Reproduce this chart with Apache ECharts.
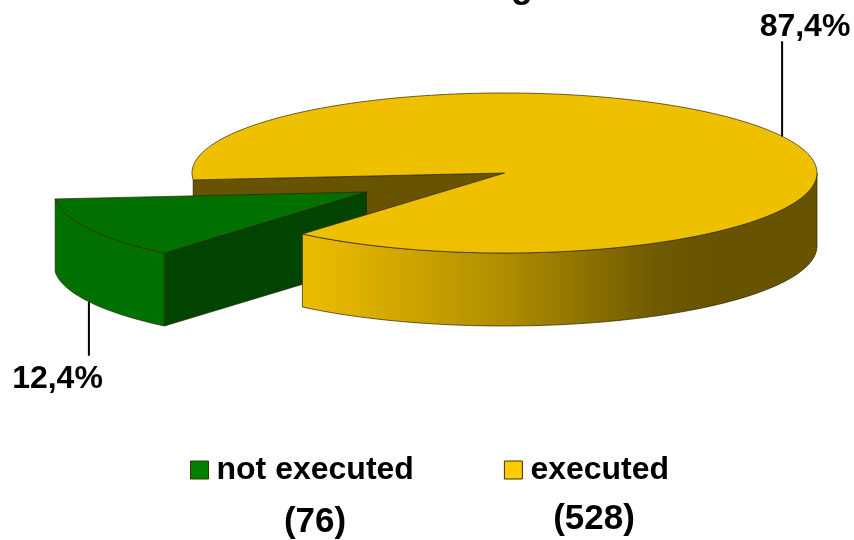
<!DOCTYPE html>
<html><head><meta charset="utf-8">
<style>html,body{margin:0;padding:0;background:#fff}#c{width:854px;height:540px}</style>
<script src="https://cdn.jsdelivr.net/npm/echarts@6/dist/echarts.min.js"></script>
</head><body><div id="c"></div>
<script>
var categories = ['not executed', 'executed'];
var percents = [12.4, 87.4];
var percentLabels = ['12,4%', '87,4%'];
var countLabels = ['(76)', '(528)'];

var FONT = '"Liberation Sans", Arial, sans-serif';
var DEG = Math.PI / 180;
var pie = { cx: 504.5, cy: 173, rx: 312.5, ry: 80, depth: 73, firstAngle: 130.3 };
var looks = [
  { dx: -138, dy: 19, top: '#007000', cut: '#004400', legend: '#008000', leaderFrom: 'bottom', leaderLen: 54,
    textX: 57.5, textY: 379, countX: 315, countY: 522, zFace: 2, zWall: 2.5, zTop: 3 },
  { dx: 0, dy: 0, top: '#EFC000', cut: '#675300', legend: '#FFCC00', leaderFrom: 'top', leaderLen: 95,
    textX: 805, textY: 27, countX: 594, countY: 519, zFace: 1, zWall: 4, zTop: 5 }
];
var total = percents.reduce(function (a, b) { return a + b; }, 0);

function wallFill(i) {
  if (i === 0) return looks[0].top;
  return new echarts.graphic.LinearGradient(300, 0, 720, 0, [
    { offset: 0, color: '#EBBD00' }, { offset: 0.12, color: '#E0B300' },
    { offset: 0.5, color: '#AD8C00' }, { offset: 0.85, color: '#6F5900' }, { offset: 1, color: '#675300' }
  ], true);
}

function renderSlice(i) {
  return function (params, api) {
    var look = looks[i];
    var before = 0;
    for (var k = 0; k < i; k++) before += percents[k];
    var start = pie.firstAngle + before / total * 360;
    var end = start + api.value(0) / total * 360;
    var cx = pie.cx + look.dx, cy = pie.cy + look.dy;
    function pt(t, down) {
      return [cx + pie.rx * Math.cos(t * DEG), cy + pie.ry * Math.sin(t * DEG) + (down ? pie.depth : 0)];
    }
    var line = { stroke: '#2b2400', lineWidth: 0.7 };
    function poly(points, fill, z2) {
      return { type: 'polygon', z2: z2, silent: true, shape: { points: points },
        style: { fill: fill, stroke: line.stroke, lineWidth: line.lineWidth } };
    }
    var children = [];
    // cut face at the start of the slice, when turned to the viewer
    var c = Math.cos(start * DEG);
    if (c < 0) {
      children.push(poly([[cx, cy], pt(start), pt(start, true), [cx, cy + pie.depth]], look.cut, look.zFace));
    }
    // outer wall: lower half of the ellipse only
    var lo = Math.max(start, 360), hi = Math.min(end, 540);
    if (hi <= lo) { lo = start; hi = Math.min(end, 180); }
    var wall = [], t, n = 80;
    for (t = 0; t <= n; t++) wall.push(pt(lo + (hi - lo) * t / n));
    for (t = n; t >= 0; t--) wall.push(pt(lo + (hi - lo) * t / n, true));
    children.push(poly(wall, wallFill(i), look.zWall));
    // top surface
    var top = [[cx, cy]], m = 240;
    for (t = 0; t <= m; t++) top.push(pt(start + (end - start) * t / m));
    children.push(poly(top, look.top, look.zTop));
    // leader and label
    var mid = (start + end) / 2;
    var a = pt(mid, look.leaderFrom === 'bottom');
    var dir = look.leaderFrom === 'bottom' ? 1 : -1;
    children.push({ type: 'line', z2: 6, silent: true,
      shape: { x1: a[0], y1: a[1], x2: a[0], y2: a[1] + dir * look.leaderLen },
      style: { stroke: '#000', lineWidth: 2 } });
    children.push({ type: 'text', z2: 6, silent: true,
      style: { x: look.textX, y: look.textY, text: percentLabels[i], fill: '#000',
        font: 'bold 32px ' + FONT, textAlign: 'center', textVerticalAlign: 'middle' } });
    children.push({ type: 'text', z2: 6, silent: true,
      style: { x: look.countX, y: look.countY, text: countLabels[i], fill: '#000',
        font: 'bold 35px ' + FONT, textAlign: 'center', textVerticalAlign: 'middle' } });
    return { type: 'group', children: children };
  };
}

var chart = echarts.init(document.getElementById('c'), null, { renderer: 'canvas' });
chart.setOption({
  animation: false,
  backgroundColor: '#fff',
  legend: {
    left: 185, top: 449, itemWidth: 18, itemHeight: 18, itemGap: 90, selectedMode: false,
    textStyle: { fontFamily: FONT, fontWeight: 'bold', fontSize: 32, color: '#000', padding: [0, 0, 0, 3] },
    data: categories.map(function (name, i) {
      return { name: name, icon: 'rect',
        itemStyle: { color: looks[i].legend, borderColor: '#3a3000', borderWidth: 1 } };
    })
  },
  graphic: [{ type: 'text', left: 511, top: -31, silent: true,
    style: { text: 'g', fill: '#000', font: 'bold 36px ' + FONT } }],
  series: categories.map(function (name, i) {
    return { type: 'custom', name: name, coordinateSystem: 'none',
      itemStyle: { color: looks[i].legend },
      renderItem: renderSlice(i), data: [[percents[i]]] };
  })
});
</script></body></html>
